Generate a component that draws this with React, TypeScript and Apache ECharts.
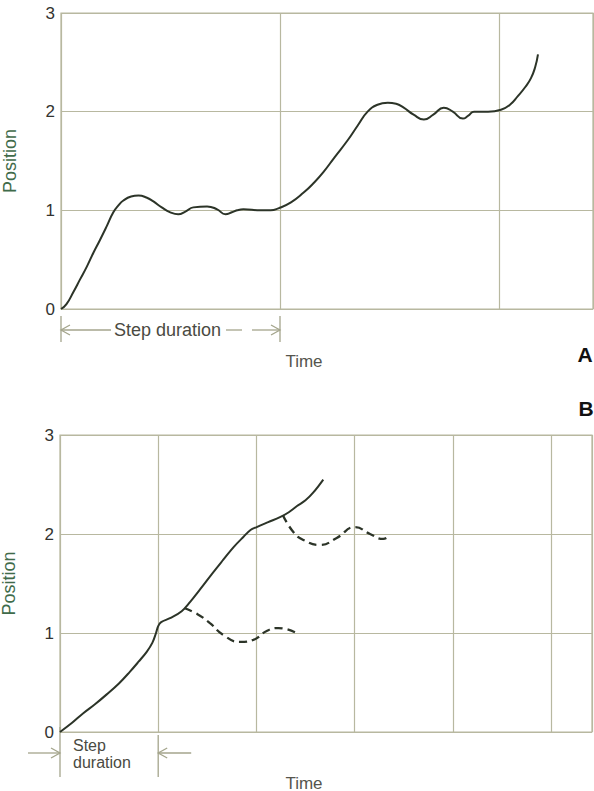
import React, { useEffect, useRef } from 'react';
import * as echarts from 'echarts';

// Y tick labels (shared by both panels)
const yTickLabels = ['0', '1', '2', '3'];

// Panel A: time in step durations, position in steps
const timeA = [0, 0.025, 0.056, 0.087, 0.118, 0.148, 0.178, 0.209, 0.239, 0.262, 0.285, 0.32, 0.354, 0.39, 0.422, 0.46, 0.499, 0.535, 0.57, 0.604, 0.667, 0.713, 0.751, 0.78, 0.804, 0.833, 0.91, 0.957, 0.993, 1.05, 1.108, 1.155, 1.199, 1.25, 1.309, 1.355, 1.4, 1.445, 1.492, 1.53, 1.565, 1.61, 1.657, 1.7, 1.748, 1.789, 1.835, 1.86, 1.886, 1.95, 2.009, 2.05, 2.087, 2.12, 2.146, 2.165, 2.178];
const posA = [0, 0.05, 0.17, 0.3, 0.43, 0.57, 0.7, 0.84, 0.98, 1.05, 1.1, 1.14, 1.15, 1.13, 1.09, 1.03, 0.98, 0.96, 0.99, 1.03, 1.04, 1.01, 0.96, 0.98, 1.0, 1.01, 1.0, 1.0, 1.02, 1.08, 1.18, 1.28, 1.39, 1.54, 1.71, 1.86, 2.0, 2.07, 2.09, 2.08, 2.04, 1.97, 1.92, 1.97, 2.04, 2.0, 1.93, 1.96, 2.0, 2.0, 2.02, 2.07, 2.16, 2.25, 2.34, 2.45, 2.58];

// Panel B: solid (continuous stepping) curve
const timeB = [0, 0.12, 0.237, 0.356, 0.476, 0.6, 0.713, 0.8, 0.883, 0.94, 0.978, 1.0, 1.03, 1.12, 1.239, 1.33, 1.426, 1.55, 1.663, 1.77, 1.867, 1.94, 2.003, 2.12, 2.24, 2.33, 2.41, 2.5, 2.58, 2.681];
const posB = [0, 0.09, 0.19, 0.28, 0.38, 0.49, 0.61, 0.71, 0.81, 0.9, 1.0, 1.07, 1.11, 1.15, 1.22, 1.32, 1.44, 1.6, 1.74, 1.87, 1.97, 2.04, 2.07, 2.12, 2.17, 2.22, 2.28, 2.34, 2.42, 2.55];

// Panel B: dashed branch settling at 1
const timeB1 = [1.27, 1.4, 1.527, 1.663, 1.833, 1.968, 2.105, 2.223, 2.41];
const posB1 = [1.25, 1.19, 1.1, 0.98, 0.91, 0.93, 1.02, 1.05, 1.0];

// Panel B: dashed branch settling at 2
const timeB2 = [2.27, 2.376, 2.478, 2.648, 2.818, 3.004, 3.157, 3.292, 3.36];
const posB2 = [2.19, 2.02, 1.94, 1.89, 1.96, 2.07, 2.0, 1.95, 1.99];

const zip = (xs: number[], ys: number[]) => xs.map((x, i) => [x, ys[i]]);

const GRID_COLOR = '#b8b8a0';
const CURVE_COLOR = '#2c3428';
const ARROW_COLOR = '#a4a58c';
const FONT = '"Liberation Sans", Arial, sans-serif';

export default function App() {
  const ref = useRef<HTMLDivElement>(null);

  useEffect(() => {
    if (!ref.current) return;
    const chart = echarts.init(ref.current, undefined, { renderer: 'svg' });

    const yAxisBase = (gridIndex: number) => ({
      type: 'value',
      gridIndex,
      min: 0,
      max: 3,
      interval: 1,
      axisLine: { show: false },
      axisTick: { show: false },
      splitLine: { show: true, lineStyle: { color: GRID_COLOR, width: 1.2 } },
      axisLabel: {
        color: '#333330',
        fontSize: 17,
        fontFamily: FONT,
        margin: 6,
        formatter: (v: number) => yTickLabels[Math.round(v)] ?? '',
      },
      name: 'Position',
      nameLocation: 'middle',
      nameRotate: 90,
      nameGap: 42,
      nameTextStyle: { color: '#3f6b4a', fontSize: 18, fontFamily: FONT },
    });

    const xAxisBase = (gridIndex: number, max: number) => ({
      type: 'value',
      gridIndex,
      min: 0,
      max,
      interval: 1,
      axisLine: { show: false },
      axisTick: { show: false },
      axisLabel: { show: false },
      splitLine: { show: true, lineStyle: { color: GRID_COLOR, width: 1.2 } },
    });

    const option: any = {
      animation: false,
      backgroundColor: '#ffffff',
      grid: [
        { left: 61, top: 13, width: 532, height: 296, show: true, borderColor: GRID_COLOR, borderWidth: 1.2, containLabel: false, outerBoundsMode: 'none' },
        { left: 60, top: 435, width: 532, height: 297, show: true, borderColor: GRID_COLOR, borderWidth: 1.2, containLabel: false, outerBoundsMode: 'none' },
      ],
      xAxis: [xAxisBase(0, 532 / 219), xAxisBase(1, 532 / 98.2)],
      yAxis: [yAxisBase(0), yAxisBase(1)],
      series: [
        {
          type: 'line', xAxisIndex: 0, yAxisIndex: 0, data: zip(timeA, posA),
          smooth: 0.5, showSymbol: false, lineStyle: { color: CURVE_COLOR, width: 2 },
        },
        {
          type: 'line', xAxisIndex: 1, yAxisIndex: 1, data: zip(timeB, posB),
          smooth: 0.4, showSymbol: false, lineStyle: { color: CURVE_COLOR, width: 2 },
        },
        {
          type: 'line', xAxisIndex: 1, yAxisIndex: 1, data: zip(timeB1, posB1),
          smooth: 0.5, showSymbol: false, lineStyle: { color: CURVE_COLOR, width: 2.3, type: [8, 5] },
        },
        {
          type: 'line', xAxisIndex: 1, yAxisIndex: 1, data: zip(timeB2, posB2),
          smooth: 0.5, showSymbol: false, lineStyle: { color: CURVE_COLOR, width: 2.3, type: [8, 5] },
        },
      ],
    };
    chart.setOption(option);

    // Annotation positions derived from the axes
    const pA0 = chart.convertToPixel({ gridIndex: 0 }, [0, 0]) as number[];
    const pA1 = chart.convertToPixel({ gridIndex: 0 }, [1, 0]) as number[];
    const pB0 = chart.convertToPixel({ gridIndex: 1 }, [0, 0]) as number[];
    const pB1 = chart.convertToPixel({ gridIndex: 1 }, [1, 0]) as number[];

    const lineStyle = { stroke: ARROW_COLOR, lineWidth: 1.3 };
    const headLeft = (x: number, y: number) => ({
      type: 'polyline', shape: { points: [[x + 9, y - 5], [x, y], [x + 9, y + 5]] }, style: { ...lineStyle, fill: null },
    });
    const headRight = (x: number, y: number) => ({
      type: 'polyline', shape: { points: [[x - 9, y - 5], [x, y], [x - 9, y + 5]] }, style: { ...lineStyle, fill: null },
    });
    const vline = (x: number, y1: number, y2: number) => ({
      type: 'line', shape: { x1: x, y1, x2: x, y2 }, style: lineStyle,
    });
    const hline = (x1: number, x2: number, y: number) => ({
      type: 'line', shape: { x1, y1: y, x2, y2: y }, style: lineStyle,
    });
    const txt = (text: string, x: number, y: number, opts: any = {}) => ({
      type: 'text', x, y,
      style: { text, fill: '#4a4a42', fontSize: 18, fontFamily: FONT, align: 'center', verticalAlign: 'middle', ...opts },
    });

    const ayA = pA0[1] + 21;
    const ayB = pB0[1] + 21;
    const graphic = [
      // Panel A step duration
      vline(pA0[0], pA0[1] + 7, pA0[1] + 33),
      vline(pA1[0], pA0[1] + 7, pA0[1] + 33),
      hline(pA0[0], pA0[0] + 50, ayA),
      headLeft(pA0[0], ayA),
      txt('Step duration', (pA0[0] + pA1[0]) / 2 - 3, ayA),
      hline(pA1[0] - 54, pA1[0] - 38, ayA),
      hline(pA1[0] - 28, pA1[0], ayA),
      headRight(pA1[0], ayA),
      txt('Time', 304, pA0[1] + 52, { fill: '#55554d', fontSize: 17 }),
      txt('A', 585, pA0[1] + 45, { fill: '#111111', fontWeight: 'bold', fontSize: 21 }),
      // Panel B step duration
      vline(pB0[0], pB0[1] - 5, pB0[1] + 45),
      vline(pB1[0], pB0[1] + 3, pB0[1] + 45),
      hline(pB0[0] - 32, pB0[0], ayB),
      headRight(pB0[0], ayB),
      hline(pB1[0], pB1[0] + 33, ayB),
      headLeft(pB1[0], ayB),
      txt('Step', pB0[0] + 13, ayB - 8, { align: 'left', fontSize: 16 }),
      txt('duration', pB0[0] + 13, ayB + 9, { align: 'left', fontSize: 16 }),
      txt('Time', 304, pB0[1] + 51, { fill: '#55554d', fontSize: 17 }),
      txt('B', 586, 408, { fill: '#111111', fontWeight: 'bold', fontSize: 21 }),
    ];
    chart.setOption({ graphic });

    return () => chart.dispose();
  }, []);

  return (
    <div
      ref={ref}
      style={{ position: 'fixed', left: 0, top: 0, width: 594, height: 791, background: '#fff' }}
    />
  );
}
